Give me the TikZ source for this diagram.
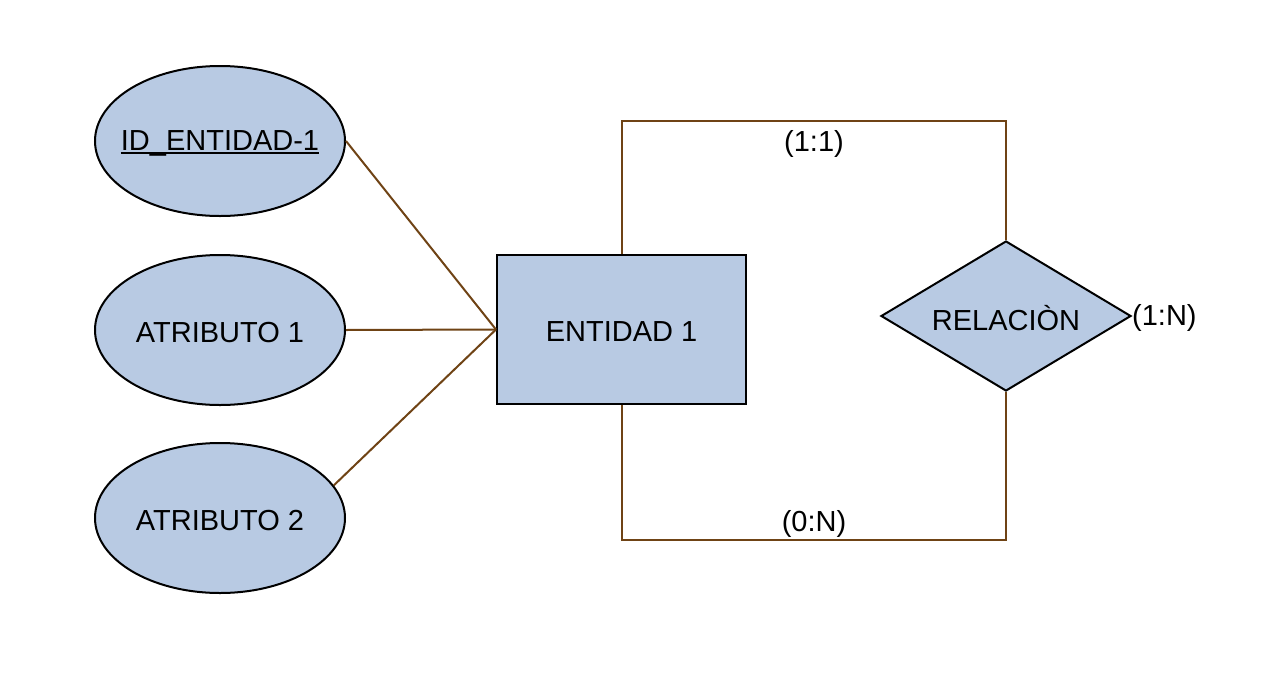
\documentclass[tikz,border=0pt]{standalone}
\usepackage{fontspec}
\setmainfont{Liberation Sans}
\usetikzlibrary{shapes.geometric}
\definecolor{boxfill}{HTML}{B8CAE3}
\definecolor{linkbrown}{HTML}{6F4315}
% key attribute: text with a heavier underline rule
\newcommand{\ulthick}[1]{\setbox0=\hbox{#1}\copy0\kern-\wd0\rule[-3.6pt]{\wd0}{1.8pt}}
\begin{document}
\begin{tikzpicture}[x=1pt,y=-1pt,
  every node/.style={font=\fontsize{29}{34}\selectfont, text=black},
  every label/.style={yshift=-2.5pt},
  attr/.style={ellipse, draw=black, fill=boxfill, line width=2pt,
    minimum width=250pt, minimum height=150pt, inner sep=0pt},
  entity/.style={rectangle, draw=black, fill=boxfill, line width=2pt,
    minimum width=249pt, minimum height=149pt, inner sep=0pt},
  relation/.style={diamond, draw=black, fill=boxfill, line width=2pt,
    aspect=1.667, minimum width=250pt, minimum height=150pt, inner sep=0pt},
  link/.style={draw=linkbrown, line width=2pt},
  card/.style={inner sep=0pt}]
\useasboundingbox (0,0) rectangle (1262,675);

% attributes (labels keep the ellipses at their fixed size)
\node[attr, label=center:{\ulthick{ID\_ENTIDAD-1}}] (idattr) at (220,141) {};
\node[attr, label=center:{ATRIBUTO 1}] (attr1) at (220,330) {};
\node[attr, label=center:{ATRIBUTO 2}] (attr2) at (220,518) {};

% entity and relationship
\node[entity, label=center:{ENTIDAD 1}] (ent) at (621.5,329.5) {};
\node[relation, label=center:{RELACIÒN}] (rel) at (1006,316) {};

% attribute links
\draw[link] (idattr.east) -- (ent.west);
\draw[link] (attr1.east) -- (ent.west);
\draw[link] (attr2.16) -- (ent.west);

% relationship links
\draw[link] (ent.north) -- ++(0,-133) -| (rel.north);
\draw[link] (ent.south) -- ++(0,135) -| (rel.south);

% cardinalities
\node[card] (c11) at (814,144) {(1:1)};
\node[card] (c0n) at (814,524) {(0:N)};
\node[card, anchor=west] (c1n) at (1132,318) {(1:N)};
\end{tikzpicture}
\end{document}
